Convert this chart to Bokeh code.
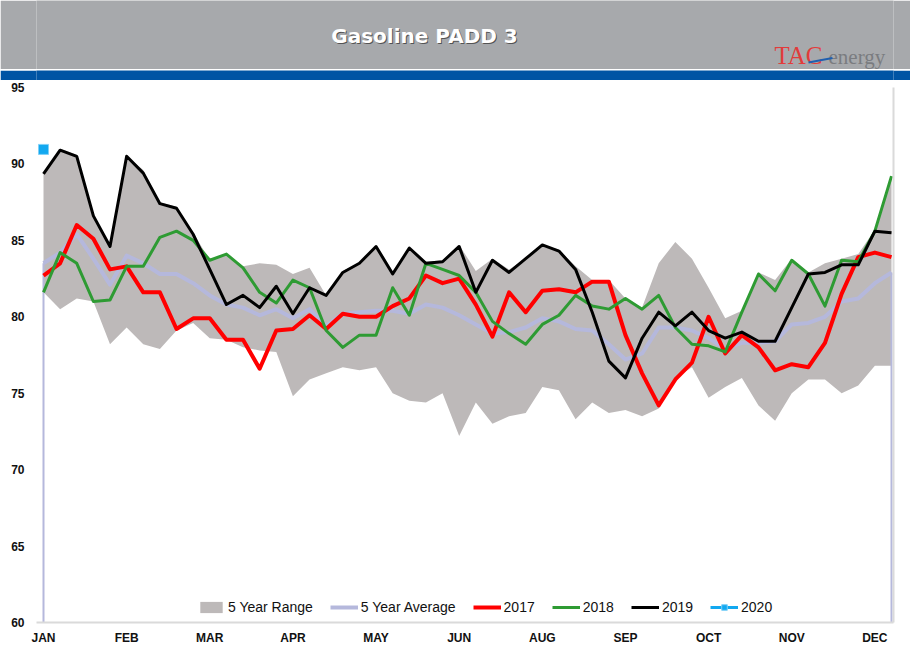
from bokeh.plotting import figure
from bokeh.models import Range1d, FixedTicker, LinearAxis, Legend, LegendItem
from bokeh.layouts import column
from bokeh.core.properties import value
from bokeh.embed import file_html
from bokeh.resources import INLINE

# ---------------- data ----------------
month_labels = ["JAN", "FEB", "MAR", "APR", "MAY", "JUN", "AUG", "SEP", "OCT", "NOV", "DEC"]
weeks = list(range(52))

range_upper = [89.4, 91.0, 90.6, 86.6, 84.7, 90.5, 89.6, 87.5, 87.2, 85.5,
               83.7, 84.1, 83.3, 83.5, 83.4, 82.8, 83.2, 81.4, 83.0, 83.5,
               84.7, 83.0, 84.5, 83.6, 83.7, 84.7, 83.0, 83.8, 83.1, 83.8,
               84.7, 84.4, 83.3, 82.4, 82.4, 81.2, 80.6, 83.5, 84.9, 83.8,
               81.9, 79.9, 80.4, 82.9, 82.4, 83.8, 82.9, 83.5, 83.8, 84.1,
               85.7, 89.2]
range_lower = [81.6, 80.5, 81.2, 81.0, 78.2, 79.3, 78.2, 77.9, 79.1, 79.6,
               78.6, 78.5, 78.0, 77.8, 77.7, 74.8, 75.9, 76.3, 76.7, 76.5,
               76.7, 75.0, 74.5, 74.4, 75.0, 72.2, 74.4, 73.0, 73.5, 73.7,
               75.4, 75.2, 73.3, 74.4, 73.7, 73.9, 73.5, 74.0, 76.0, 76.7,
               74.7, 75.4, 76.0, 74.2, 73.2, 75.0, 75.9, 75.9, 75.0, 75.5,
               76.8, 76.8]
avg_5yr = [83.5, 84.2, 85.4, 83.8, 82.1, 84.0, 83.5, 82.8, 82.8, 82.2,
           81.4, 80.8, 80.6, 80.1, 80.5, 79.9, 80.5, 79.4, 80.2, 80.3,
           80.4, 80.4, 80.2, 80.8, 80.6, 80.1, 79.5, 78.9, 79.0, 79.3,
           79.9, 79.7, 79.2, 79.1, 78.2, 77.2, 77.6, 79.3, 79.3, 79.1,
           78.6, 77.9, 78.3, 78.3, 78.4, 79.5, 79.6, 80.0, 81.0, 81.2,
           82.2, 82.9]
y2017 = [82.7, 83.5, 86.0, 85.1, 83.1, 83.3, 81.6, 81.6, 79.2, 79.9,
         79.9, 78.5, 78.5, 76.6, 79.1, 79.2, 80.1, 79.2, 80.2, 80.0,
         80.0, 80.7, 81.2, 82.7, 82.2, 82.5, 80.8, 78.7, 81.6, 80.3,
         81.7, 81.8, 81.6, 82.3, 82.3, 78.8, 76.3, 74.2, 75.9, 77.0,
         80.0, 77.6, 78.8, 78.0, 76.5, 76.9, 76.7, 78.3, 81.5, 83.9,
         84.2, 83.9]
y2018 = [81.6, 84.2, 83.5, 81.0, 81.1, 83.3, 83.3, 85.2, 85.6, 85.0,
         83.7, 84.1, 83.2, 81.6, 80.9, 82.4, 81.9, 79.1, 78.0, 78.8,
         78.8, 81.9, 80.1, 83.5, 83.1, 82.7, 81.6, 79.7, 78.9, 78.2,
         79.5, 80.1, 81.4, 80.7, 80.5, 81.2, 80.5, 81.4, 79.3, 78.2,
         78.1, 77.7, 80.3, 82.8, 81.7, 83.7, 82.8, 80.7, 83.7, 83.6,
         85.6, 89.2]
y2019 = [89.35, 90.9, 90.5, 86.6, 84.6, 90.5, 89.4, 87.4, 87.1, 85.4,
         83.1, 80.8, 81.4, 80.6, 82.0, 80.2, 81.9, 81.4, 82.9, 83.5,
         84.6, 82.8, 84.5, 83.5, 83.6, 84.6, 81.6, 83.7, 82.9, 83.8,
         84.7, 84.3, 83.1, 80.3, 77.1, 76.0, 78.6, 80.3, 79.4, 80.3,
         79.1, 78.6, 79.0, 78.4, 78.4, 80.6, 82.8, 82.9, 83.4, 83.4,
         85.6, 85.5]
weeks_2020 = [0]
y2020 = [90.95]

Y_MIN, Y_MAX = 60, 95

# ---------------- colours ----------------
C_RANGE = "#BDB9B9"
C_AVG = "#B5B8DC"
C_2017 = "#FF0000"
C_2018 = "#2E9B33"
C_2019 = "#000000"
C_2020 = "#12A8F0"
C_HEAD = "#A7A9AC"
C_BLUE = "#0054A4"

BL, BR = 36, 17   # left / right borders shared by all stacked figures
HEAD_H, STRIPE_H = 69, 11
TOP_GAP = 87 - HEAD_H - STRIPE_H   # distance from stripe to plot frame

# ---------------- header (gray band) ----------------
h = figure(width=910, height=HEAD_H, x_range=Range1d(BL, 910 - BR), y_range=Range1d(HEAD_H, 0),
           toolbar_location=None, output_backend="svg",
           x_axis_type=None, y_axis_type=None,
           min_border_left=BL, min_border_right=BR, min_border_top=0, min_border_bottom=0)
h.outline_line_color = None
h.grid.visible = False
h.background_fill_color = C_HEAD
h.border_fill_color = C_HEAD
h.text(x=[425], y=[36.5], text=["Gasoline PADD 3"], text_color="#3C3C3C",
       text_font=value("DejaVu Sans"), text_font_style="bold", text_font_size="20px",
       text_align="center", text_baseline="middle", text_alpha=0.8)
h.text(x=[424], y=[35], text=["Gasoline PADD 3"], text_color="#FFFFFF",
       text_font=value("DejaVu Sans"), text_font_style="bold", text_font_size="20px",
       text_align="center", text_baseline="middle")
h.text(x=[774], y=[54.5], text=["TAC"], text_color="#E23B3B",
       text_font=value("Liberation Serif"), text_font_size="25px",
       text_align="left", text_baseline="middle")
h.text(x=[828], y=[56.5], text=["energy"], text_color="#7A7C80",
       text_font=value("Liberation Serif"), text_font_size="21px",
       text_align="left", text_baseline="middle")
h.line(x=[808, 832], y=[62, 57.5], line_color="#1F5FAF", line_width=2)

# ---------------- blue stripe ----------------
s = figure(width=910, height=STRIPE_H, x_range=Range1d(0, 1), y_range=Range1d(0, 1),
           toolbar_location=None, output_backend="svg",
           x_axis_type=None, y_axis_type=None,
           min_border_left=BL, min_border_right=BR, min_border_top=0, min_border_bottom=0)
s.outline_line_color = None
s.grid.visible = False
s.background_fill_color = C_BLUE
s.border_fill_color = C_BLUE

# ---------------- main chart ----------------
px_per_week = 16.627
x_start = -(43 - BL) / px_per_week
x_end = weeks[-1] + 2 / px_per_week
p = figure(width=910, height=661 - HEAD_H - STRIPE_H,
           x_range=Range1d(x_start, x_end), y_range=Range1d(Y_MIN, Y_MAX),
           toolbar_location=None, output_backend="svg",
           min_border_left=BL, min_border_right=BR, min_border_top=TOP_GAP, min_border_bottom=39)
p.outline_line_color = None
p.grid.visible = False
p.background_fill_color = "#FFFFFF"

# axes
p.xaxis.ticker = FixedTicker(ticks=[i * 5 for i in range(len(month_labels))])
p.xaxis.major_label_overrides = {i * 5: lab for i, lab in enumerate(month_labels)}
p.yaxis.ticker = FixedTicker(ticks=list(range(Y_MIN, Y_MAX + 1, 5)))
for ax in (p.xaxis[0], p.yaxis[0]):
    ax.major_tick_line_color = None
    ax.minor_tick_line_color = None
    ax.major_tick_out = 0
    ax.major_tick_in = 0
    ax.minor_tick_out = 0
    ax.minor_tick_in = 0
    ax.major_label_text_font = "Liberation Sans"
    ax.major_label_text_font_style = "bold"
    ax.major_label_text_color = "#111111"
p.xaxis.major_label_text_font_size = "12px"
p.yaxis.major_label_text_font_size = "12px"
p.xaxis.major_label_standoff = 8
p.yaxis.major_label_standoff = 12
p.yaxis.axis_line_color = None
p.xaxis.axis_line_color = "#DADADA"
p.xaxis.axis_line_width = 2

right_ax = LinearAxis(ticker=FixedTicker(ticks=[]), major_label_text_font_size="0px",
                      axis_line_color="#DADADA", axis_line_width=2,
                      major_tick_line_color=None, minor_tick_line_color=None,
                      major_tick_out=0, minor_tick_out=0)
p.add_layout(right_ax, "right")

# series
r_range = p.varea(x=weeks, y1=range_lower, y2=range_upper, fill_color=C_RANGE)
p.segment(x0=[weeks[0], weeks[-1]], y0=[avg_5yr[0], avg_5yr[-1]],
          x1=[weeks[0], weeks[-1]], y1=[Y_MIN, Y_MIN], line_color=C_AVG, line_width=2)
r_avg = p.line(weeks, avg_5yr, line_color=C_AVG, line_width=4, line_join="round")
r_2017 = p.line(weeks, y2017, line_color=C_2017, line_width=4, line_join="round")
r_2018 = p.line(weeks, y2018, line_color=C_2018, line_width=3, line_join="round")
r_2019 = p.line(weeks, y2019, line_color=C_2019, line_width=3, line_join="round")
r_2020l = p.line(weeks_2020, y2020, line_color=C_2020, line_width=3)
r_2020m = p.scatter(weeks_2020, y2020, marker="square", size=10,
                    fill_color=C_2020, line_color="#7FD0F7")

legend = Legend(items=[
    LegendItem(label="5 Year Range", renderers=[r_range]),
    LegendItem(label="5 Year Average", renderers=[r_avg]),
    LegendItem(label="2017", renderers=[r_2017]),
    LegendItem(label="2018", renderers=[r_2018]),
    LegendItem(label="2019", renderers=[r_2019]),
    LegendItem(label="2020", renderers=[r_2020l, r_2020m]),
], orientation="horizontal", location=(161, 7))
legend.background_fill_alpha = 0
legend.border_line_color = None
legend.padding = 0
legend.margin = 0
legend.spacing = 17
legend.glyph_width = 28
legend.glyph_height = 14
legend.label_standoff = 3
legend.label_text_font = "Liberation Sans"
legend.label_text_font_size = "14px"
legend.label_text_color = "#111111"
p.add_layout(legend)

layout = column(h, s, p, spacing=0)
open("out.html", "w").write(file_html(layout, INLINE))
